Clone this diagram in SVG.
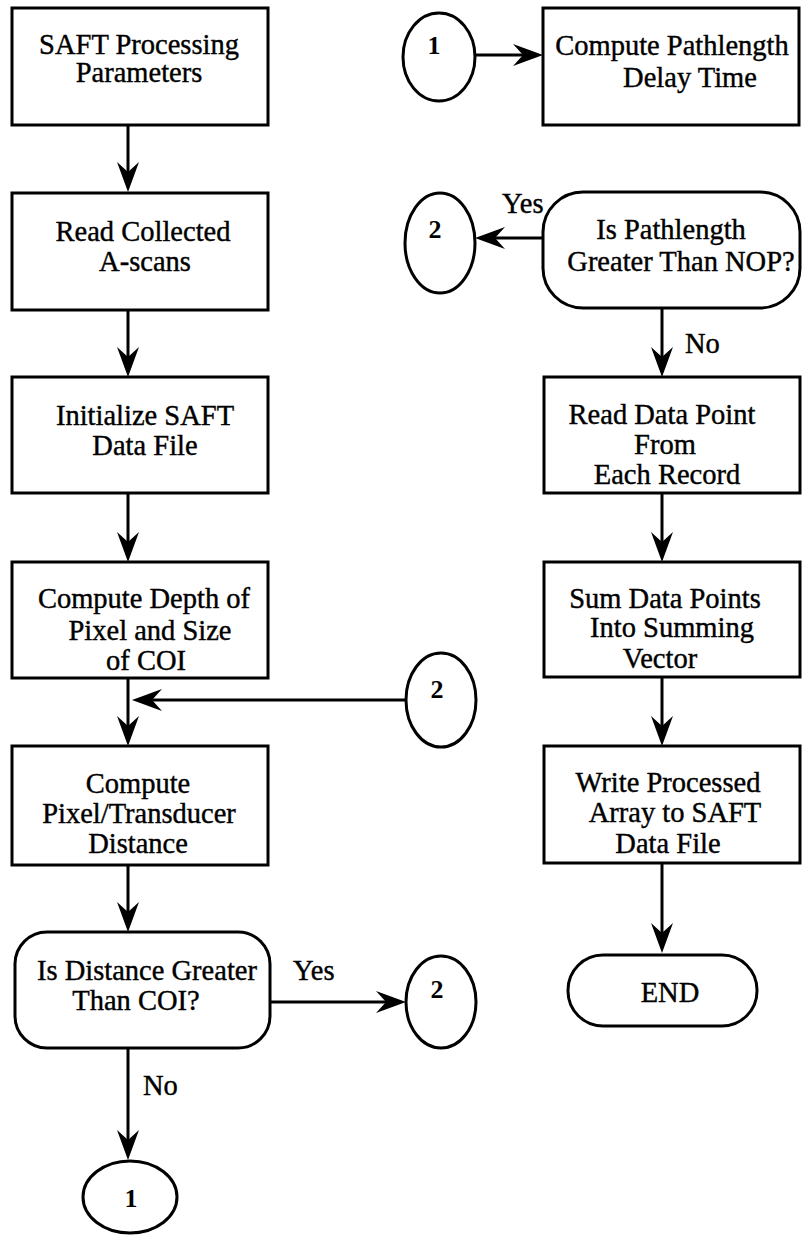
<svg xmlns="http://www.w3.org/2000/svg" width="804" height="1235" viewBox="0 0 804 1235">
<style>
.b{fill:#fff;stroke:#000;stroke-width:3}
.c{fill:none;stroke:#000;stroke-width:3}
text{font-family:"Liberation Serif","Times New Roman",serif;font-size:28.5px;fill:#000;stroke:#000;stroke-width:0.4;text-anchor:middle}
.n{font-size:26px;font-weight:bold;stroke-width:0}
.l{text-anchor:start}
</style>
<defs>
<marker id="ah" markerUnits="userSpaceOnUse" viewBox="-32 -13 42 26" refX="-8" refY="0" markerWidth="42" markerHeight="26" orient="auto">
<path d="M0,0 L-30,-11 L-20,0 L-30,11 Z" fill="#000"/>
</marker>
</defs>
<rect width="804" height="1235" fill="#fff"/>
<g id="connectors">
<line class="c" x1="128" y1="125" x2="128" y2="184" marker-end="url(#ah)"/>
<line class="c" x1="128" y1="310" x2="128" y2="369" marker-end="url(#ah)"/>
<line class="c" x1="128" y1="493" x2="128" y2="554" marker-end="url(#ah)"/>
<line class="c" x1="128" y1="678" x2="128" y2="738" marker-end="url(#ah)"/>
<line class="c" x1="406" y1="700" x2="140" y2="700" marker-end="url(#ah)"/>
<line class="c" x1="128" y1="865" x2="128" y2="924" marker-end="url(#ah)"/>
<line class="c" x1="270" y1="1002" x2="398" y2="1002" marker-end="url(#ah)"/>
<line class="c" x1="128" y1="1048" x2="128" y2="1152" marker-end="url(#ah)"/>
<line class="c" x1="475" y1="55" x2="535" y2="55" marker-end="url(#ah)"/>
<line class="c" x1="543" y1="238" x2="483" y2="238" marker-end="url(#ah)"/>
<line class="c" x1="662" y1="308" x2="662" y2="369" marker-end="url(#ah)"/>
<line class="c" x1="662" y1="493" x2="662" y2="554" marker-end="url(#ah)"/>
<line class="c" x1="662" y1="677" x2="662" y2="738" marker-end="url(#ah)"/>
<line class="c" x1="662" y1="863" x2="662" y2="945" marker-end="url(#ah)"/>
</g>
<g id="saft-params"><rect class="b" x="12" y="8" width="256" height="117"/><text x="139" y="54">SAFT Processing</text><text x="139" y="82">Parameters</text></g>
<g id="read-ascans"><rect class="b" x="12" y="193" width="256" height="117"/><text x="143" y="241">Read Collected</text><text x="145" y="271">A-scans</text></g>
<g id="init-file"><rect class="b" x="12" y="377" width="256" height="116"/><text x="145" y="425">Initialize SAFT</text><text x="145" y="455">Data File</text></g>
<g id="compute-depth"><rect class="b" x="12" y="562" width="256" height="116"/><text x="144" y="608">Compute Depth of</text><text x="150" y="640">Pixel and Size</text><text x="146" y="670">of COI</text></g>
<g id="compute-dist"><rect class="b" x="12" y="746" width="256" height="119"/><text x="138" y="793">Compute</text><text x="139" y="823">Pixel/Transducer</text><text x="138" y="853">Distance</text></g>
<g id="decision-dist"><rect class="b" x="15" y="932" width="255" height="116" rx="32"/><text x="147" y="980">Is Distance Greater</text><text x="136" y="1010">Than COI?</text><text class="l" x="293" y="980">Yes</text><text class="l" x="143" y="1095">No</text></g>
<g id="conn-1-bottom"><ellipse class="b" cx="130" cy="1197" rx="47" ry="36"/><text class="n" x="131" y="1207">1</text></g>
<g id="conn-2-bottom"><ellipse class="b" cx="441" cy="1002" rx="35" ry="46"/><text class="n" x="437" y="998">2</text></g>
<g id="conn-2-middle"><ellipse class="b" cx="441" cy="700" rx="35" ry="47"/><text class="n" x="437" y="698">2</text></g>
<g id="conn-1-top"><ellipse class="b" cx="439" cy="57" rx="36" ry="44"/><text class="n" x="434" y="54">1</text></g>
<g id="pathlength-delay"><rect class="b" x="543" y="8" width="256" height="117"/><text x="672" y="55">Compute Pathlength</text><text x="690" y="87">Delay Time</text></g>
<g id="conn-2-top"><ellipse class="b" cx="440" cy="243" rx="35" ry="50"/><text class="n" x="435" y="238">2</text></g>
<g id="decision-nop"><rect class="b" x="543" y="192" width="257" height="116" rx="40"/><text x="671" y="239">Is Pathlength</text><text x="681" y="271">Greater Than NOP?</text><text class="l" x="502" y="213">Yes</text><text class="l" x="685" y="353">No</text></g>
<g id="read-point"><rect class="b" x="544" y="377" width="256" height="116"/><text x="662" y="424">Read Data Point</text><text x="665" y="454">From</text><text x="667" y="484">Each Record</text></g>
<g id="sum-points"><rect class="b" x="544" y="562" width="256" height="115"/><text x="665" y="608">Sum Data Points</text><text x="672" y="637">Into Summing</text><text x="660" y="668">Vector</text></g>
<g id="write-array"><rect class="b" x="544" y="746" width="256" height="117"/><text x="668" y="792">Write Processed</text><text x="675" y="822">Array to SAFT</text><text x="668" y="853">Data File</text></g>
<g id="end"><rect class="b" x="568" y="955" width="189" height="71" rx="35"/><text x="670" y="1002">END</text></g>
</svg>
